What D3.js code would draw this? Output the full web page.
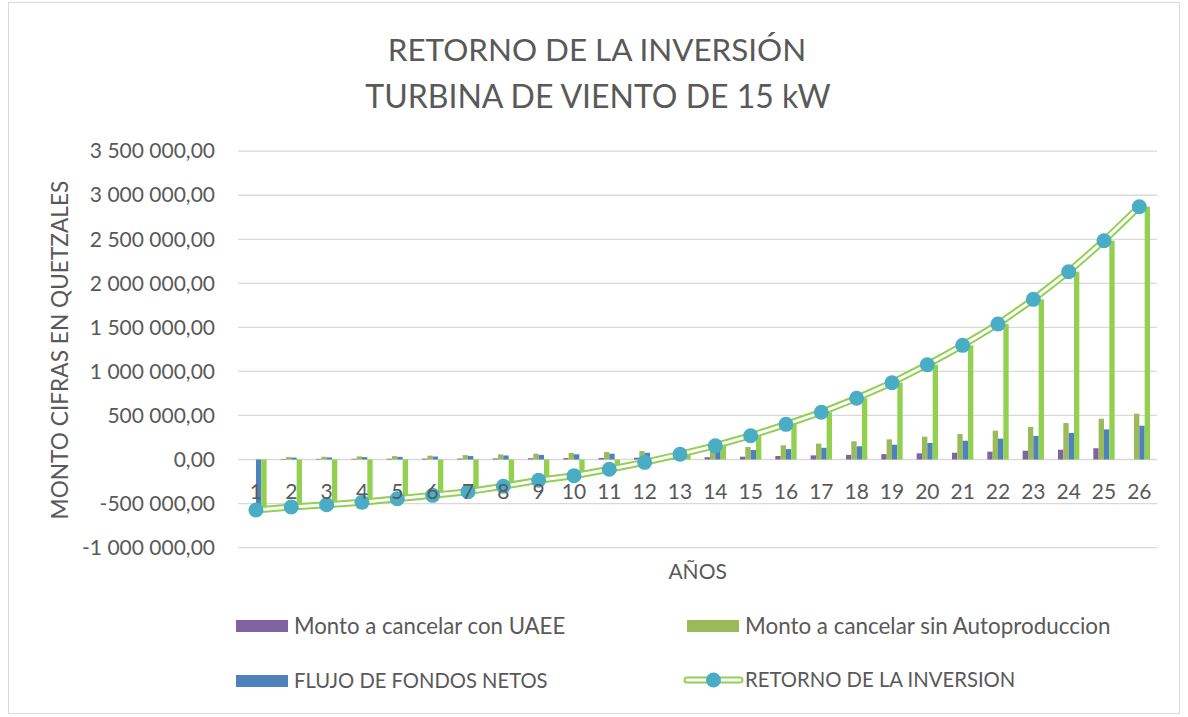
<!DOCTYPE html>
<html>
<head>
<meta charset="utf-8">
<script src="https://cdn.jsdelivr.net/npm/d3@7"></script>
<style>
  html, body { margin: 0; padding: 0; background: #ffffff; }
  svg { display: block; font-family: Lato, "Open Sans", sans-serif; }
</style>
</head>
<body>
<svg id="chart" width="1188" height="717"></svg>
<script>
// Años del proyecto
const years = ["1","2","3","4","5","6","7","8","9","10","11","12","13",
               "14","15","16","17","18","19","20","21","22","23","24","25","26"];

// Monto a cancelar con UAEE (Q)
const montoConUAEE = [0, 6000, 7000, 8000, 9000, 10000, 11000, 12000, 14000, 16000,
  18000, 20000, 22000, 26000, 32000, 40000, 47000, 53000, 61000, 70000,
  77000, 89000, 100000, 111000, 128000, 0];

// Monto a cancelar sin Autoproduccion (Q)
const montoSinAuto = [0, 28000, 31000, 35000, 39000, 44000, 50000, 58000, 66000, 75000,
  84000, 96000, 110000, 125000, 142000, 161000, 180000, 207000, 229000, 259000,
  289000, 327000, 369000, 414000, 463000, 520000];

// Flujo de fondos netos (Q)
const flujoNeto = [-573000, 22000, 24000, 27000, 30000, 34000, 39000, 46000, 52000, 59000,
  66000, 76000, 88000, 99000, 108000, 118000, 133000, 150000, 168000, 188000,
  213000, 237000, 268000, 302000, 342000, 384000];

// Retorno de la inversión acumulado (Q)
const retorno = [-573000, -539000, -513000, -486000, -445000, -407000, -365000, -303000, -236000, -184000,
  -111000, -32000, 59000, 157000, 270000, 399000, 536000, 695000, 872000, 1076000,
  1296000, 1538000, 1818000, 2132000, 2484000, 2870000];

// Marcas del eje de valores
const yTicks = [-1000000, -500000, 0, 500000, 1000000, 1500000, 2000000, 2500000, 3000000, 3500000];

const seriesNames = ["Monto a cancelar con UAEE", "Monto a cancelar sin Autoproduccion",
                     "FLUJO DE FONDOS NETOS", "RETORNO DE LA INVERSION"];
const barSeries = [
  { key: "con",  values: montoConUAEE, color: "#8064A2" },
  { key: "sin",  values: montoSinAuto, color: "#9BBB59" },
  { key: "flujo", values: flujoNeto,   color: "#4F81BD" },
  { key: "ret",  values: retorno,      color: "#92D050" }
];

const textColor = "#595959";
const gridColor = "#D9D9D9";

const svg = d3.select("#chart");

// Borde del área del gráfico
svg.append("rect")
  .attr("x", 8.5).attr("y", 2.5)
  .attr("width", 1171).attr("height", 711)
  .attr("fill", "#ffffff")
  .attr("stroke", gridColor).attr("stroke-width", 1);

const plot = { left: 238.3, right: 1157, top: 151.2, bottom: 547.6 };

const x = d3.scaleBand()
  .domain(years)
  .range([plot.left, plot.right])
  .paddingInner(0.396)
  .paddingOuter(0.198);

const xInner = d3.scaleBand()
  .domain(barSeries.map(s => s.key))
  .range([0, x.bandwidth()]);

const y = d3.scaleLinear()
  .domain([-1000000, 3500000])
  .range([plot.bottom, plot.top]);

const locale = d3.formatLocale({
  decimal: ",", thousands: " ", grouping: [3], currency: ["", ""], minus: "-"
});
const fmt = locale.format(",.2f");

// Líneas de división horizontales
svg.append("g")
  .selectAll("line")
  .data(yTicks)
  .join("line")
  .attr("x1", plot.left).attr("x2", plot.right)
  .attr("y1", d => y(d)).attr("y2", d => y(d))
  .attr("stroke", gridColor).attr("stroke-width", 1.3);

// Eje de valores
const yAxis = svg.append("g")
  .attr("transform", "translate(215,0)")
  .call(d3.axisLeft(y).tickValues(yTicks).tickFormat(fmt).tickSize(0).tickPadding(0));
yAxis.select(".domain").remove();
yAxis.selectAll("text")
  .attr("fill", textColor)
  .style("font-size", "21px")
  .style("font-family", "Lato, sans-serif");

// Barras agrupadas
const groups = svg.append("g")
  .selectAll("g")
  .data(barSeries)
  .join("g")
  .attr("fill", d => d.color);

groups.selectAll("rect")
  .data(s => s.values.map((v, i) => ({ key: s.key, year: years[i], value: v })))
  .join("rect")
  .attr("x", d => x(d.year) + xInner(d.key))
  .attr("width", xInner.bandwidth())
  .attr("y", d => y(Math.max(0, d.value)))
  .attr("height", d => Math.abs(y(d.value) - y(0)));

// Línea del retorno de la inversión (trazo doble)
const line = d3.line()
  .x((d, i) => x(years[i]) + x.bandwidth() / 2)
  .y(d => y(d));

svg.append("path")
  .datum(retorno)
  .attr("d", line)
  .attr("fill", "none")
  .attr("stroke", "#92D050")
  .attr("stroke-width", 7)
  .attr("stroke-linejoin", "round");
svg.append("path")
  .datum(retorno)
  .attr("d", line)
  .attr("fill", "none")
  .attr("stroke", "#ffffff")
  .attr("stroke-width", 3)
  .attr("stroke-linejoin", "round");

svg.append("g")
  .selectAll("circle")
  .data(retorno)
  .join("circle")
  .attr("cx", (d, i) => x(years[i]) + x.bandwidth() / 2)
  .attr("cy", d => y(d))
  .attr("r", 7.5)
  .attr("fill", "#4BACC6");

// Etiquetas de categorías sobre el eje en cero
const xAxis = svg.append("g")
  .attr("transform", `translate(0,${y(0) + 22})`)
  .call(d3.axisBottom(x).tickSize(0).tickPadding(0));
xAxis.select(".domain").remove();
xAxis.selectAll("text")
  .attr("fill", textColor)
  .attr("dy", "0.35em")
  .attr("y", 10)
  .style("font-size", "21px")
  .style("font-family", "Lato, sans-serif");

// Títulos
const title = svg.append("text")
  .attr("text-anchor", "middle")
  .attr("fill", textColor);
title.append("tspan").attr("x", 597).attr("y", 61)
  .style("font-size", "31.4px").text("RETORNO DE LA INVERSIÓN");
title.append("tspan").attr("x", 598).attr("y", 108)
  .style("font-size", "32px").text("TURBINA DE VIENTO DE 15 kW");

svg.append("text")
  .attr("transform", "translate(68,350) rotate(-90)")
  .attr("text-anchor", "middle")
  .attr("fill", textColor)
  .style("font-size", "22.7px")
  .text("MONTO CIFRAS EN QUETZALES");

svg.append("text")
  .attr("x", (plot.left + plot.right) / 2)
  .attr("y", 579)
  .attr("text-anchor", "middle")
  .attr("fill", textColor)
  .style("font-size", "21px")
  .text("AÑOS");

// Leyenda
const legend = svg.append("g");
const legendItems = [
  { name: seriesNames[0], color: "#8064A2", x: 236, y: 626, type: "rect", size: 22.2 },
  { name: seriesNames[1], color: "#9BBB59", x: 687, y: 626, type: "rect", size: 22.4 },
  { name: seriesNames[2], color: "#4F81BD", x: 236, y: 681, type: "rect", size: 20.2 },
  { name: seriesNames[3], color: "#92D050", x: 684, y: 680, type: "line", size: 20.3 }
];
legendItems.forEach(it => {
  const g = legend.append("g");
  if (it.type === "rect") {
    g.append("rect")
      .attr("x", it.x).attr("y", it.y - 6)
      .attr("width", 52).attr("height", 12)
      .attr("fill", it.color);
  } else {
    g.append("line")
      .attr("x1", it.x + 3).attr("x2", it.x + 56)
      .attr("y1", it.y).attr("y2", it.y)
      .attr("stroke", it.color).attr("stroke-width", 7).attr("stroke-linecap", "round");
    g.append("line")
      .attr("x1", it.x + 3).attr("x2", it.x + 56)
      .attr("y1", it.y).attr("y2", it.y)
      .attr("stroke", "#ffffff").attr("stroke-width", 3).attr("stroke-linecap", "round");
    g.append("circle")
      .attr("cx", it.x + 29.5).attr("cy", it.y)
      .attr("r", 7.5).attr("fill", "#4BACC6");
  }
  g.append("text")
    .attr("x", it.x + 58 + (it.type === "line" ? 3 : 0))
    .attr("y", it.y)
    .attr("dy", "0.35em")
    .attr("fill", textColor)
    .style("font-size", it.size + "px")
    .text(it.name);
});
</script>
</body>
</html>
